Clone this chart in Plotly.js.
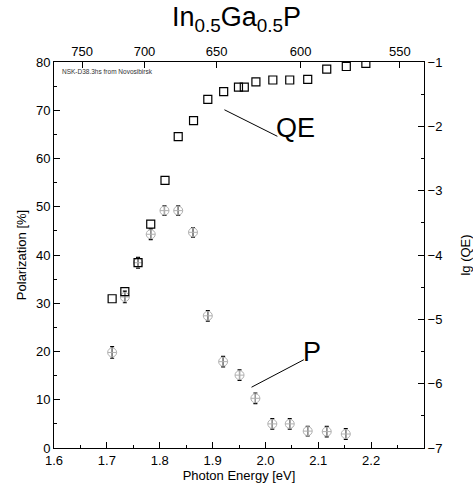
<!DOCTYPE html>
<html><head><meta charset="utf-8">
<script src="https://cdn.plot.ly/plotly-3.0.1.min.js"></script>
<style>html,body{margin:0;padding:0;background:#fff}#c{width:473px;height:483px}</style>
</head><body><div id="c"></div>
<script>
// Photon energy [eV] of QE points
const qeEnergy = [1.710,1.734,1.759,1.783,1.810,1.835,1.864,1.891,1.921,1.949,1.960,1.982,2.014,2.046,2.080,2.116,2.153,2.190];
// lg(QE)
const qeLog = [-4.68,-4.57,-4.12,-3.52,-2.84,-2.16,-1.91,-1.58,-1.46,-1.39,-1.39,-1.31,-1.28,-1.28,-1.27,-1.11,-1.07,-1.02];
// Photon energy of polarization points
const polEnergy = [1.710,1.734,1.759,1.783,1.809,1.835,1.863,1.891,1.920,1.951,1.981,2.013,2.046,2.080,2.116,2.152];
// Polarization [%]
const polValue = [19.8,31.3,38.4,44.3,49.2,49.2,44.7,27.4,17.9,15.1,10.3,5.0,5.0,3.5,3.4,2.9];
const polError = [1.2,1.2,1.1,1.1,1.0,1.0,1.0,1.1,1.1,1.1,1.1,1.1,1.1,1.0,1.1,1.1];
// Axis ticks
const energyTicks = [1.6,1.7,1.8,1.9,2.0,2.1,2.2];
const wavelengthTicks = [750,700,650,600,550];
const polTicks = [0,10,20,30,40,50,60,70,80];
const lgTicks = [-7,-6,-5,-4,-3,-2,-1];

const F = "Liberation Sans, Arial, sans-serif";
const hc = 1239.84;

const traces = [
  {x: polEnergy, y: polValue, type:'scatter', mode:'markers', xaxis:'x', yaxis:'y',
   marker:{symbol:'circle-cross-open', size:9, color:'#b0b0b0', line:{width:1, color:'#b0b0b0'}},
   error_y:{type:'data', array: polError, visible:true, color:'#000', thickness:1.2, width:2},
   showlegend:false, hoverinfo:'skip'},
  {x: qeEnergy, y: qeLog, type:'scatter', mode:'markers', xaxis:'x2', yaxis:'y2',
   marker:{symbol:'square-open', size:8, color:'#000', line:{width:1.2, color:'#000'}},
   showlegend:false, hoverinfo:'skip'}
];

const axBase = {showgrid:false, zeroline:false, showline:true, linecolor:'#000', linewidth:1,
  ticks:'inside', ticklen:6, tickcolor:'#000', tickfont:{family:F, size:13, color:'#000'}};

const layout = {
  width:473, height:483,
  margin:{l:54, r:49, t:62, b:35},
  paper_bgcolor:'#fff', plot_bgcolor:'#fff',
  title:{text:'In<sub>0.5</sub>Ga<sub>0.5</sub>P', font:{family:F, size:27, color:'#000'}, x:0.5, xanchor:'center', y:0.985, yanchor:'top'},
  xaxis: Object.assign({}, axBase, {range:[1.6,2.3], tickmode:'array', tickvals: energyTicks, ticktext: energyTicks.map(v=>v.toFixed(1)),
    minor:{dtick:0.05, ticks:'inside', ticklen:3, tickcolor:'#000', tick0:1.6},
    title:{text:'Photon Energy [eV]', font:{family:F, size:13, color:'#000'}, standoff:0}, automargin:false, anchor:'y'}),
  xaxis2: Object.assign({}, axBase, {range:[1.6,2.3], overlaying:'x', side:'top', anchor:'y2', tickmode:'array',
    tickvals: wavelengthTicks.map(l=>hc/l), ticktext: wavelengthTicks.map(String), automargin:false}),
  yaxis: Object.assign({}, axBase, {range:[0,80], tickmode:'array', tickvals: polTicks,
    minor:{dtick:5, ticks:'inside', ticklen:3, tickcolor:'#000', tick0:0},
    title:{text:'Polarization [%]', font:{family:F, size:13, color:'#000'}, standoff:6}, automargin:false, anchor:'x'}),
  yaxis2: Object.assign({}, axBase, {range:[-7,-1], overlaying:'y', side:'right', anchor:'x2', tickmode:'array', tickvals: lgTicks,
    minor:{dtick:0.5, ticks:'inside', ticklen:3, tickcolor:'#000', tick0:-7},
    title:{text:'lg (QE)', font:{family:F, size:13, color:'#000'}, standoff:22}, automargin:false}),
  shapes:[
    {type:'line', xref:'x', yref:'y', x0:1.9224, y0:70.1, x1:2.0226, y1:64.6, line:{color:'#000', width:1}},
    {type:'line', xref:'x', yref:'y', x0:1.9737, y0:12.6, x1:2.0727, y1:18.3, line:{color:'#000', width:1}}
  ],
  annotations:[
    {text:'QE', xref:'x', yref:'y', x:2.056, y:66.4, showarrow:false, font:{family:F, size:27, color:'#000'}},
    {text:'P', xref:'x', yref:'y', x:2.089, y:20.0, showarrow:false, font:{family:F, size:27, color:'#000'}},
    {text:'NSK-D38.3hs from Novosibirsk', xref:'paper', yref:'paper', x:0.015, y:0.975, xanchor:'left', yanchor:'middle', showarrow:false, font:{family:F, size:6.5, color:'#333'}}
  ]
};
Plotly.newPlot('c', traces, layout, {displayModeBar:false, staticPlot:true});
</script></body></html>
